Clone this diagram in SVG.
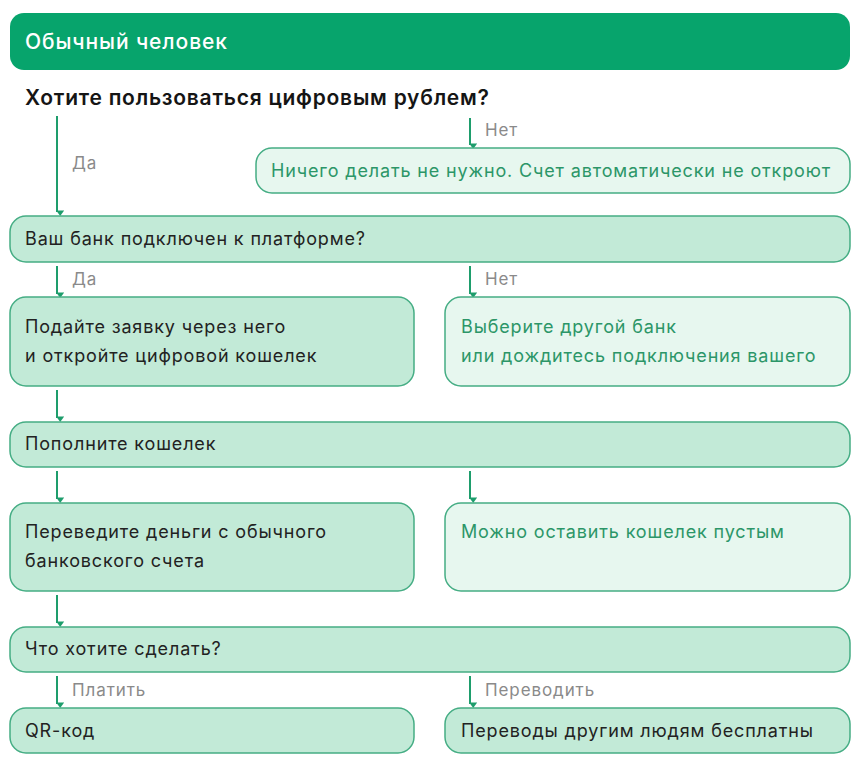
<svg xmlns="http://www.w3.org/2000/svg" width="860" height="761" viewBox="0 0 860 761">
<defs>
<style>
text{font-family:"Inter","Noto Sans","Liberation Sans",sans-serif;font-size:18px;letter-spacing:0.85px;}
.hdr{fill:#07A46C;}
.hdrt{fill:#ffffff;font-size:21px;font-weight:500;letter-spacing:0.9px;}
.q{fill:#151515;font-size:21px;font-weight:600;letter-spacing:0.75px;}
.dark{fill:#C2EAD7;stroke:#45AD84;stroke-width:1.5;}
.light{fill:#E7F7EF;stroke:#45AD84;stroke-width:1.5;}
.td{fill:#222222;}
.tg{fill:#2C9668;}
.lbl{fill:#8A8A8A;font-size:17px;letter-spacing:0.9px;}
.c{stroke:#1E9D6C;stroke-width:2;fill:none;marker-end:url(#ah);}
</style>
<marker id="ah" viewBox="0 0 10 10" refX="5" refY="9" markerWidth="4" markerHeight="4" orient="auto-start-reverse" markerUnits="strokeWidth">
<path d="M0,3 L10,3 L5,10 Z" fill="#1E9D6C" transform="rotate(-90 5 5)"/>
</marker>
</defs>
<rect width="860" height="761" fill="#ffffff"/>

<g id="header"><rect class="hdr" x="10" y="13" width="840" height="57" rx="14"/><text class="hdrt" x="25" y="49">Обычный человек</text></g>
<g id="question"><text class="q" x="25" y="105">Хотите пользоваться цифровым рублем?</text></g>

<g id="connectors">
<line class="c" x1="57" y1="116" x2="57" y2="212"/>
<line class="c" x1="470" y1="118" x2="470" y2="145"/>
<line class="c" x1="57" y1="266" x2="57" y2="294"/>
<line class="c" x1="470" y1="266" x2="470" y2="294"/>
<line class="c" x1="57" y1="390" x2="57" y2="418"/>
<line class="c" x1="57" y1="471" x2="57" y2="499"/>
<line class="c" x1="470" y1="471" x2="470" y2="499"/>
<line class="c" x1="57" y1="595" x2="57" y2="623"/>
<line class="c" x1="57" y1="676" x2="57" y2="704"/>
<line class="c" x1="470" y1="676" x2="470" y2="704"/>
<text class="lbl" x="72" y="169">Да</text>
<text class="lbl" x="485" y="136">Нет</text>
<text class="lbl" x="72" y="285">Да</text>
<text class="lbl" x="485" y="285">Нет</text>
<text class="lbl" x="72" y="696">Платить</text>
<text class="lbl" x="485" y="696">Переводить</text>
</g>

<g id="n-nothing"><rect class="light" x="256" y="148" width="594" height="45" rx="16"/><text class="tg" x="271" y="177">Ничего делать не нужно. Счет автоматически не откроют</text></g>
<g id="n-bank"><rect class="dark" x="10" y="216" width="840" height="46" rx="16"/><text class="td" x="25" y="245">Ваш банк подключен к платформе?</text></g>
<g id="n-apply"><rect class="dark" x="10" y="297" width="404" height="89" rx="16"/><text class="td" x="25" y="333">Подайте заявку через него</text><text class="td" x="25" y="362">и откройте цифровой кошелек</text></g>
<g id="n-other"><rect class="light" x="445" y="297" width="405" height="89" rx="16"/><text class="tg" x="461" y="333">Выберите другой банк</text><text class="tg" x="461" y="362">или дождитесь подключения вашего</text></g>
<g id="n-topup"><rect class="dark" x="10" y="422" width="840" height="45" rx="16"/><text class="td" x="25" y="450">Пополните кошелек</text></g>
<g id="n-transfer"><rect class="dark" x="10" y="503" width="404" height="88" rx="16"/><text class="td" x="25" y="538">Переведите деньги с обычного</text><text class="td" x="25" y="567">банковского счета</text></g>
<g id="n-empty"><rect class="light" x="445" y="503" width="405" height="88" rx="16"/><text class="tg" x="461" y="538">Можно оставить кошелек пустым</text></g>
<g id="n-what"><rect class="dark" x="10" y="627" width="840" height="45" rx="16"/><text class="td" x="25" y="655">Что хотите сделать?</text></g>
<g id="n-qr"><rect class="dark" x="10" y="708" width="404" height="45" rx="16"/><text class="td" x="25" y="737">QR-код</text></g>
<g id="n-free"><rect class="dark" x="445" y="708" width="405" height="45" rx="16"/><text class="td" x="461" y="737">Переводы другим людям бесплатны</text></g>
</svg>
